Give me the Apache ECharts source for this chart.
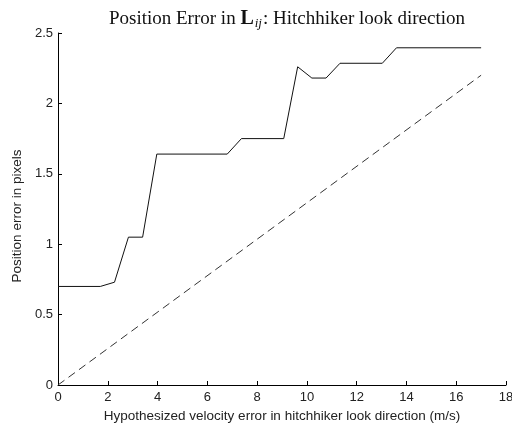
<!DOCTYPE html>
<html><head><meta charset="utf-8">
<script src="https://cdn.jsdelivr.net/npm/echarts@6/dist/echarts.min.js"></script>
<style>html,body{margin:0;padding:0;background:#fff}#c{width:512px;height:426px}</style>
</head><body><div id="c"></div>
<script>
var errX = [0, 1.7, 2.27, 2.83, 3.4, 3.97, 6.8, 7.37, 9.07, 9.63, 10.2, 10.77, 11.33, 13.03, 13.6, 17];
var errY = [0.7, 0.7, 0.73, 1.05, 1.05, 1.64, 1.64, 1.75, 1.75, 2.26, 2.18, 2.18, 2.285, 2.285, 2.395, 2.395];
var refX = [0, 17];
var refY = [0, 2.2];
var xTicks = [0, 2, 4, 6, 8, 10, 12, 14, 16, 18];
var yTicks = [0, 0.5, 1, 1.5, 2, 2.5];

function pairs(xs, ys){ return xs.map(function(x,i){return [x, ys[i]];}); }
var chart = echarts.init(document.getElementById('c'));
var tickFont = {color:'#222', fontFamily:'Liberation Sans, Arial, sans-serif', fontSize:13};
var nameFont = {color:'#222', fontFamily:'Liberation Sans, Arial, sans-serif', fontSize:13.5};
chart.setOption({
  animation:false,
  title:{
    text:'Position Error in {L|L}{sub|ij}{t|: Hitchhiker look direction}',
    left:282, textAlign:'center', top:3,
    textStyle:{
      fontFamily:'Liberation Serif, Times New Roman, serif', fontSize:19, fontWeight:'normal', color:'#111',
      rich:{
        L:{fontFamily:'Liberation Serif, serif', fontSize:20, fontWeight:'bold', color:'#111'},
        sub:{fontFamily:'Liberation Serif, serif', fontSize:13, fontStyle:'italic', color:'#111', padding:[9,1,0,1]},
        t:{fontFamily:'Liberation Serif, serif', fontSize:19, color:'#111'}
      }
    }
  },
  grid:{left:58, right:6, top:33, bottom:41, containLabel:false, outerBoundsMode:'none'},
  xAxis:{
    type:'value', min:0, max:18, interval:2,
    name:'Hypothesized velocity error in hitchhiker look direction (m/s)',
    nameLocation:'middle', nameGap:22, nameTextStyle:nameFont,
    axisLine:{onZero:false, lineStyle:{color:'#000', width:1}},
    axisTick:{inside:true, length:4, lineStyle:{color:'#000'}},
    axisLabel:Object.assign({margin:6, formatter:function(v){return xTicks.indexOf(v)>=0?String(v):'';}}, tickFont),
    splitLine:{show:false}
  },
  yAxis:{
    type:'value', min:0, max:2.5, interval:0.5,
    name:'Position error in pixels',
    nameLocation:'middle', nameGap:31, nameTextStyle:Object.assign({padding:[0,14,0,0]}, nameFont),
    axisLine:{show:true, lineStyle:{color:'#000', width:1}},
    axisTick:{show:true, inside:true, length:4, lineStyle:{color:'#000'}},
    axisLabel:Object.assign({margin:5, formatter:function(v){return yTicks.indexOf(v)>=0?String(v):'';}}, tickFont),
    splitLine:{show:false}
  },
  series:[
    {type:'line', data:pairs(errX, errY), showSymbol:false, lineStyle:{color:'#111', width:1}},
    {type:'line', data:pairs(refX, refY), showSymbol:false, lineStyle:{color:'#333', width:1, type:[8,5]}}
  ]
});
</script></body></html>
